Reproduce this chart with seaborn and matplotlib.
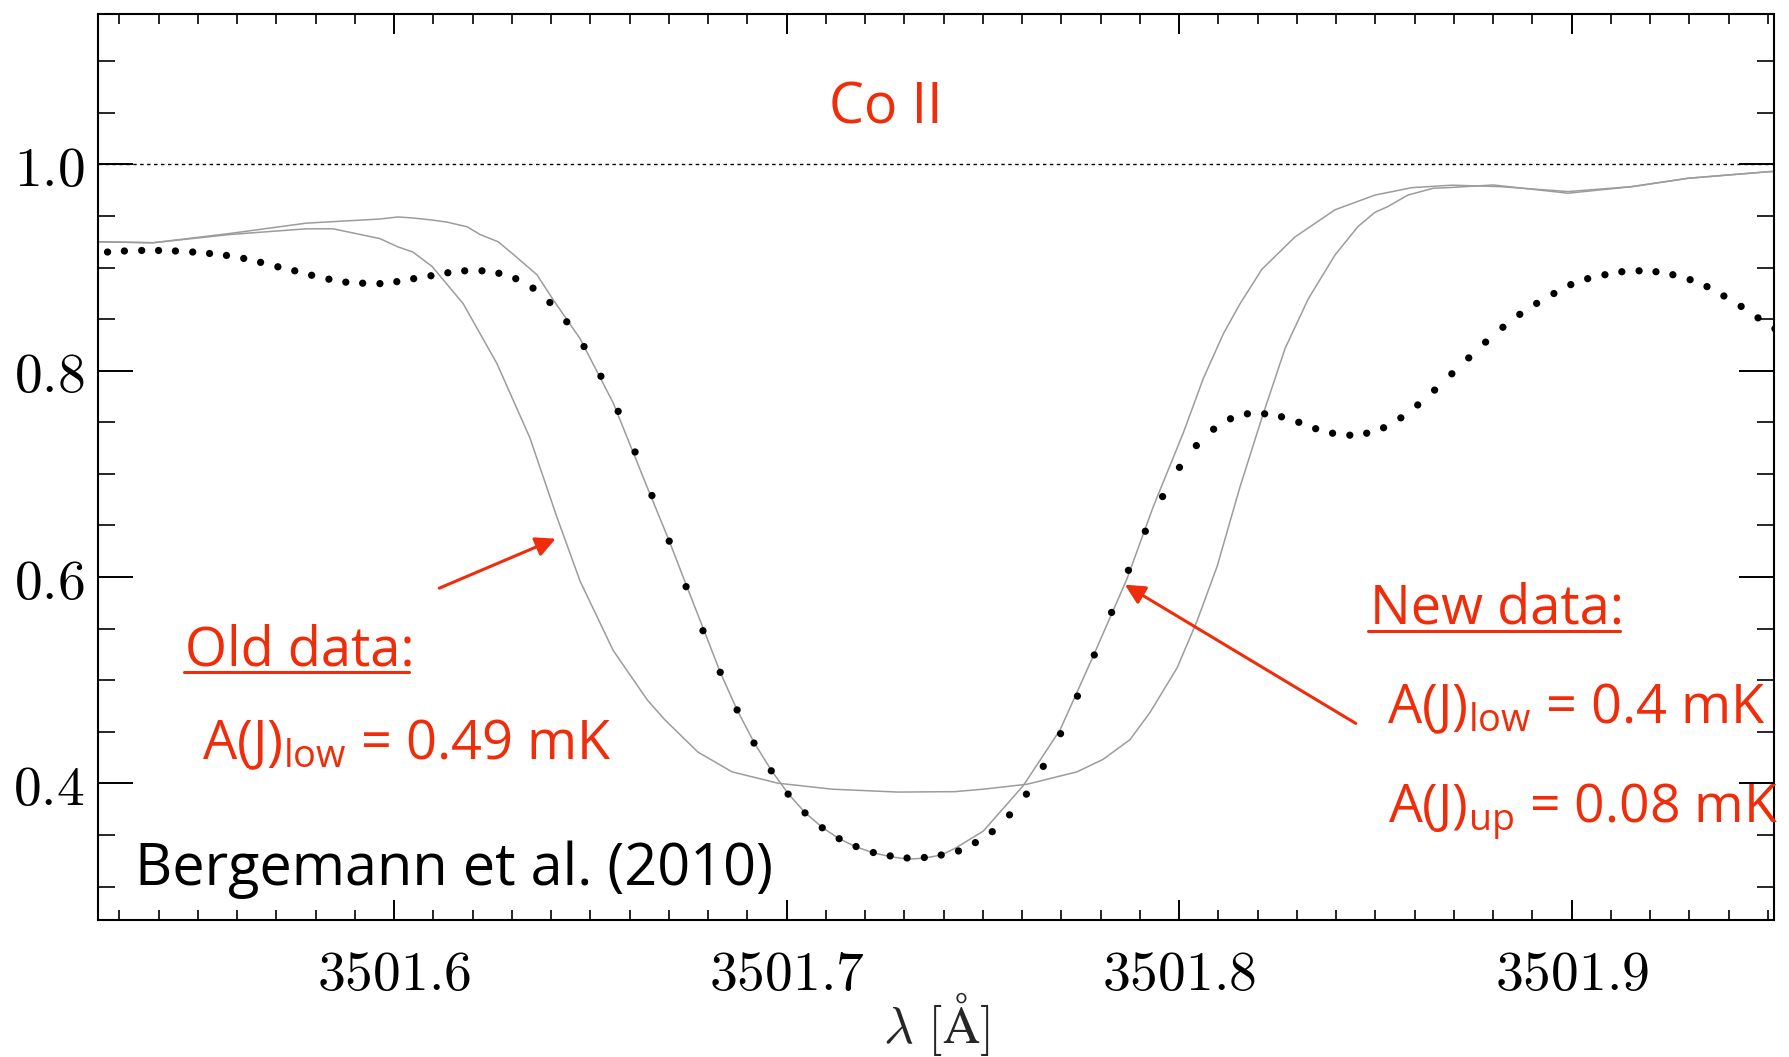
import numpy as np
import pandas as pd
import matplotlib
matplotlib.use("Agg")
import matplotlib.pyplot as plt
from matplotlib.lines import Line2D
from matplotlib.ticker import FixedLocator, MultipleLocator, FuncFormatter
import seaborn as sns

# Observed solar flux around the Co II 3501.7 A line (dots)
obs_wave = [
    3501.5270, 3501.5313, 3501.5357, 3501.5400, 3501.5443, 3501.5487, 3501.5530,
    3501.5573, 3501.5617, 3501.5660, 3501.5704, 3501.5747, 3501.5790, 3501.5834,
    3501.5877, 3501.5920, 3501.5964, 3501.6007, 3501.6050, 3501.6094, 3501.6137,
    3501.6180, 3501.6224, 3501.6267, 3501.6310, 3501.6354, 3501.6397, 3501.6440,
    3501.6484, 3501.6527, 3501.6571, 3501.6614, 3501.6657, 3501.6701, 3501.6744,
    3501.6787, 3501.6831, 3501.6874, 3501.6917, 3501.6961, 3501.7004, 3501.7047,
    3501.7091, 3501.7134, 3501.7177, 3501.7221, 3501.7264, 3501.7307, 3501.7351,
    3501.7394, 3501.7438, 3501.7481, 3501.7524, 3501.7568, 3501.7611, 3501.7654,
    3501.7698, 3501.7741, 3501.7784, 3501.7828, 3501.7871, 3501.7914, 3501.7958,
    3501.8001, 3501.8044, 3501.8088, 3501.8131, 3501.8174, 3501.8218, 3501.8261,
    3501.8305, 3501.8348, 3501.8391, 3501.8435, 3501.8478, 3501.8521, 3501.8565,
    3501.8608, 3501.8651, 3501.8695, 3501.8738, 3501.8781, 3501.8825, 3501.8868,
    3501.8911, 3501.8955, 3501.8998, 3501.9041, 3501.9085, 3501.9128, 3501.9172,
    3501.9215, 3501.9258, 3501.9302, 3501.9345, 3501.9388, 3501.9432, 3501.9475,
    3501.9518,
]
obs_flux = [
    0.9150, 0.9160, 0.9165, 0.9165, 0.9160, 0.9150, 0.9136, 0.9117, 0.9088, 0.9050,
    0.9007, 0.8968, 0.8925, 0.8887, 0.8858, 0.8848, 0.8844, 0.8863, 0.8892, 0.8920,
    0.8949, 0.8968, 0.8968, 0.8944, 0.8892, 0.8800, 0.8661, 0.8474, 0.8234, 0.7946,
    0.7606, 0.7212, 0.6790, 0.6348, 0.5907, 0.5480, 0.5077, 0.4712, 0.4391, 0.4122,
    0.3896, 0.3714, 0.3570, 0.3464, 0.3388, 0.3330, 0.3297, 0.3277, 0.3282, 0.3306,
    0.3345, 0.3426, 0.3532, 0.3695, 0.3896, 0.4165, 0.4482, 0.4846, 0.5245, 0.5657,
    0.6065, 0.6444, 0.6780, 0.7063, 0.7274, 0.7433, 0.7534, 0.7582, 0.7582, 0.7553,
    0.7500, 0.7438, 0.7394, 0.7375, 0.7394, 0.7447, 0.7543, 0.7668, 0.7812, 0.7970,
    0.8124, 0.8277, 0.8421, 0.8546, 0.8652, 0.8748, 0.8834, 0.8892, 0.8930, 0.8959,
    0.8968, 0.8959, 0.8930, 0.8882, 0.8815, 0.8724, 0.8623, 0.8512, 0.8407,
]

# Synthetic profile with the old hyperfine constants
old_wave = [
    3501.5240, 3501.5386, 3501.5582, 3501.5776, 3501.5845, 3501.5964, 3501.6010,
    3501.6048, 3501.6097, 3501.6176, 3501.6262, 3501.6346, 3501.6415, 3501.6474,
    3501.6558, 3501.6645, 3501.6690, 3501.6774, 3501.6861, 3501.6978, 3501.7116,
    3501.7284, 3501.7429, 3501.7501, 3501.7613, 3501.7740, 3501.7806, 3501.7875,
    3501.7926, 3501.7995, 3501.8046, 3501.8097, 3501.8155, 3501.8211, 3501.8270,
    3501.8329, 3501.8397, 3501.8456, 3501.8499, 3501.8532, 3501.8583, 3501.8647,
    3501.8685, 3501.8800, 3501.8915, 3501.8991, 3501.9154, 3501.9297, 3501.9503,
    3501.9520,
]
old_flux = [
    0.9250, 0.9240, 0.9320, 0.9375, 0.9375, 0.9280, 0.9200,
    0.9150, 0.9010, 0.8650, 0.8070, 0.7350, 0.6580, 0.5960,
    0.5290, 0.4810, 0.4616, 0.4304, 0.4112, 0.4002, 0.3944,
    0.3916, 0.3920, 0.3944, 0.3992, 0.4112, 0.4232, 0.4424,
    0.4688, 0.5120, 0.5576, 0.6104, 0.6871, 0.7543, 0.8215,
    0.8695, 0.9120, 0.9398, 0.9535, 0.9591, 0.9702, 0.9768,
    0.9774, 0.9800, 0.9752, 0.9720, 0.9784, 0.9865, 0.9929,
    0.9932,
]

# Synthetic profile with the new hyperfine constants
new_wave = [
    3501.5240, 3501.5386, 3501.5582, 3501.5776, 3501.5964, 3501.6010, 3501.6048,
    3501.6097, 3501.6135, 3501.6186, 3501.6219, 3501.6265, 3501.6303, 3501.6364,
    3501.6405, 3501.6474, 3501.6558, 3501.6645, 3501.6701, 3501.6746, 3501.6790,
    3501.6831, 3501.6874, 3501.6918, 3501.6962, 3501.7005, 3501.7048, 3501.7092,
    3501.7134, 3501.7177, 3501.7221, 3501.7265, 3501.7308, 3501.7350, 3501.7394,
    3501.7429, 3501.7501, 3501.7603, 3501.7697, 3501.7782, 3501.7867, 3501.7934,
    3501.8011, 3501.8062, 3501.8113, 3501.8155, 3501.8211, 3501.8295, 3501.8397,
    3501.8499, 3501.8593, 3501.8695, 3501.8818, 3501.8991, 3501.9154, 3501.9297,
    3501.9503, 3501.9520,
]
new_flux = [
    0.9250, 0.9240, 0.9330, 0.9430, 0.9470, 0.9490, 0.9480,
    0.9460, 0.9440, 0.9395, 0.9320, 0.9250, 0.9130, 0.8930,
    0.8690, 0.8310, 0.7690, 0.6870, 0.6350, 0.5907, 0.5480,
    0.5077, 0.4712, 0.4391, 0.4122, 0.3896, 0.3714, 0.3570,
    0.3464, 0.3385, 0.3327, 0.3290, 0.3265, 0.3275, 0.3306,
    0.3370, 0.3537, 0.3978, 0.4520, 0.5240, 0.5980, 0.6680,
    0.7400, 0.7927, 0.8359, 0.8647, 0.8983, 0.9295, 0.9559,
    0.9702, 0.9774, 0.9798, 0.9784, 0.9736, 0.9784, 0.9865,
    0.9929, 0.9932,
]

x_major = [3501.6, 3501.7, 3501.8, 3501.9]
y_major = [0.4, 0.6, 0.8, 1.0]

RED = "#EF2D0A"
GRAY = "#9c9c9c"

sns.set_style("ticks")
plt.rcParams["font.family"] = ["Open Sans", "DejaVu Sans"]
plt.rcParams["mathtext.fontset"] = "cm"
plt.rcParams["mathtext.rm"] = "Open Sans"
plt.rcParams["mathtext.it"] = "Open Sans:italic"
plt.rcParams["mathtext.bf"] = "Open Sans:bold"

W, H = 1789, 1057
fig = plt.figure(figsize=(W / 100, H / 100), dpi=100)
ax = fig.add_axes([0.05484, 0.13000, 0.93684, 0.85704])

old_df = pd.DataFrame({"wave": old_wave, "flux": old_flux})
new_df = pd.DataFrame({"wave": new_wave, "flux": new_flux})
obs_df = pd.DataFrame({"wave": obs_wave, "flux": obs_flux})

sns.lineplot(data=old_df, x="wave", y="flux", ax=ax, color=GRAY, lw=1.1,
             sort=False, estimator=None)
sns.lineplot(data=new_df, x="wave", y="flux", ax=ax, color=GRAY, lw=1.1,
             sort=False, estimator=None)
sns.scatterplot(data=obs_df, x="wave", y="flux", ax=ax, color="black", s=27,
                edgecolor="none", zorder=3)
ax.axhline(1.0, color="black", lw=1.0, ls=(0, (2.5, 2.5)), zorder=1)

ax.set_xlim(3501.5246, 3501.9516)
ax.set_ylim(0.268, 1.146)

ax.xaxis.set_major_locator(FixedLocator(x_major))
ax.xaxis.set_minor_locator(MultipleLocator(0.01))
ax.yaxis.set_major_locator(FixedLocator(y_major))
ax.yaxis.set_minor_locator(MultipleLocator(0.05))
ax.xaxis.set_major_formatter(FuncFormatter(lambda v, p: f"${v:.1f}$"))
ax.yaxis.set_major_formatter(FuncFormatter(lambda v, p: f"${v:.1f}$"))

ax.tick_params(axis="x", which="major", direction="in", length=14.4, width=1.4,
               top=True, bottom=True, labelsize=40, pad=20, colors="black")
ax.tick_params(axis="x", which="minor", direction="in", length=7.2, width=1.4,
               top=True, bottom=True)
ax.tick_params(axis="y", which="major", direction="in", length=25, width=1.4,
               left=True, right=True, labelsize=40, pad=10, colors="black")
ax.tick_params(axis="y", which="minor", direction="in", length=12.5, width=1.4,
               left=True, right=True)
for sp in ax.spines.values():
    sp.set_visible(True)
    sp.set_linewidth(1.5)
    sp.set_color("black")

ax.set_xlabel(r"$\mathrm{\lambda}\ [\mathrm{\AA}]$", fontsize=37, labelpad=-10)
ax.set_ylabel("")


def fpos(x, y):
    """Pixel position (from top-left) to figure fraction."""
    return x / W, 1 - y / H


txt_kw = dict(ha="left", va="baseline", math_fontfamily="custom")

fig.text(*fpos(886, 123), "Co II", color=RED, fontsize=40, ha="center", va="baseline")

fig.text(*fpos(185, 665), "Old data:", color=RED, fontsize=39, **txt_kw)
fig.add_artist(Line2D([184 / W, 409 / W], [1 - 671.5 / H] * 2, color=RED, lw=2.2,
                      transform=fig.transFigure))
fig.text(*fpos(202, 759), r"A(J)$_{\mathrm{low}}$ = 0.49 mK", color=RED,
         fontsize=39, **txt_kw)

fig.text(*fpos(1370, 623), "New data:", color=RED, fontsize=39, **txt_kw)
fig.add_artist(Line2D([1368 / W, 1620 / W], [1 - 631 / H] * 2, color=RED, lw=2.2,
                      transform=fig.transFigure))
fig.text(*fpos(1387, 723), r"A(J)$_{\mathrm{low}}$ = 0.4 mK", color=RED,
         fontsize=39, **txt_kw)
fig.text(*fpos(1388, 823), r"A(J)$_{\mathrm{up}}$ = 0.08 mK", color=RED,
         fontsize=38.5, **txt_kw)

fig.text(*fpos(135, 885), "Bergemann et al. (2010)", color="black",
         fontsize=41.5, **txt_kw)

# Arrows pointing at the two synthetic profiles
old_arrow_tail, old_arrow_tip = (3501.6115, 0.5892), (3501.6412, 0.6372)
new_arrow_tail, new_arrow_tip = (3501.8450, 0.4582), (3501.7862, 0.5926)
for tail, tip in [(old_arrow_tail, old_arrow_tip), (new_arrow_tail, new_arrow_tip)]:
    ax.annotate("", xy=tip, xytext=tail, annotation_clip=False,
                arrowprops=dict(arrowstyle="-|>,head_length=0.6,head_width=0.3",
                                color=RED, lw=2.2, shrinkA=0, shrinkB=0,
                                mutation_scale=20))

fig.savefig("out.png", dpi=100)
